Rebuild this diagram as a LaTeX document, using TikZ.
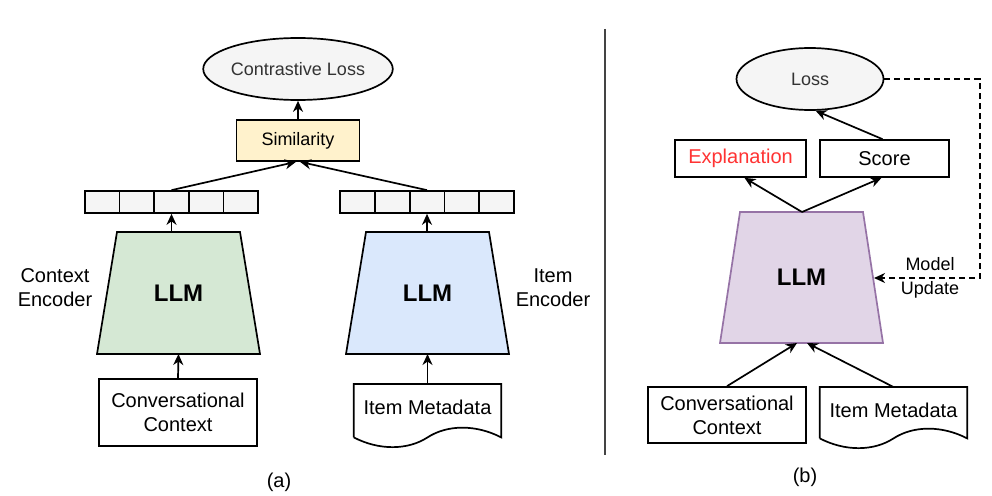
\documentclass[tikz,border=0pt]{standalone}
\usepackage{fontspec}
\setmainfont{Liberation Sans}
\usetikzlibrary{shapes.geometric,arrows.meta,calc}
\definecolor{grayfill}{HTML}{F5F5F5}
\definecolor{losstext}{HTML}{333333}
\definecolor{simfill}{HTML}{FFF2CC}
\definecolor{greenfill}{HTML}{D5E8D4}
\definecolor{bluefill}{HTML}{DAE8FC}
\definecolor{purplefill}{HTML}{E1D5E7}
\definecolor{purpleline}{HTML}{9673A6}
\definecolor{redtext}{HTML}{FF3333}
\definecolor{divider}{HTML}{444444}
\begin{document}
\begin{tikzpicture}[x=1pt,y=-1pt,
  ln/.style={line width=1.7pt},
  arr/.style={line width=1.7pt,-{Stealth[length=11pt,width=10pt,inset=3.5pt]}},
  txt/.style={font=\fontsize{20}{24}\selectfont,align=center},
  smalltxt/.style={font=\fontsize{18}{24}\selectfont,align=center},
  boxnode/.style={draw=black,line width=1.7pt,fill=white,inner sep=0pt,txt},
  lossnode/.style={ellipse,draw=black,line width=1.7pt,fill=grayfill,inner sep=0pt,
    minimum width=147pt,minimum height=62pt,text=losstext,smalltxt},
  cell/.style={draw=black,line width=1.7pt,fill=grayfill,inner sep=0pt,
    minimum width=34.7pt,minimum height=22pt},
  docnode/.style={inner sep=0pt,txt,minimum width=147pt},
  llmtext/.style={font=\fontsize{24}{28}\selectfont\bfseries}
]
\useasboundingbox (0,0) rectangle (992,495);

% ---------------- (a) ----------------
\node[lossnode] (closs) at (298,69) {Contrastive Loss};
\node[boxnode,fill=simfill,minimum width=123pt,minimum height=41pt,font=\fontsize{18}{22}\selectfont] (sim) at (298,140.5) {Similarity};

\foreach \i/\x in {1/102.3,2/136.9,3/171.5,4/206.1,5/240.7}
  \node[cell] (lv\i) at (\x,202) {};
\foreach \i/\x in {1/357.4,2/392.2,3/427,4/461.8,5/496.6}
  \node[cell] (rv\i) at (\x,202) {};

% left LLM
\coordinate (lAtop) at (171.5,232);
\coordinate (lAbot) at (178.5,354);
\draw[ln,fill=greenfill] (117,232) -- (240,232) -- (260,354) -- (97,354) -- cycle;
\node[llmtext] (llmA) at (178.5,293) {LLM};
% right LLM
\coordinate (rAtop) at (427,232);
\coordinate (rAbot) at (427.5,354);
\draw[ln,fill=bluefill] (366,232) -- (489,232) -- (509,354) -- (346,354) -- cycle;
\node[llmtext] (llmB) at (427.5,293) {LLM};

\node[boxnode,minimum width=158pt,minimum height=67pt] (ccA) at (178,412.5) {Conversational\\Context};

\node[docnode,minimum height=53pt,anchor=north] (imA) at (427.5,384) {};
\draw[ln,fill=white] (imA.south west) -- (imA.north west) -- (imA.north east) -- (imA.south east)
  .. controls ($(imA.south east)+(-25,-13)$) and ($(imA.south)+(20,-13)$) .. (imA.south)
  .. controls ($(imA.south)+(-20,13)$) and ($(imA.south west)+(25,13)$) .. (imA.south west);
\node[txt] (imAt) at (427.5,407) {Item Metadata};

\node[txt] (ctxenc) at (55,288) {Context\\Encoder};
\node[txt] (itemenc) at (553,288) {Item\\Encoder};
\node[txt] (capa) at (279,482) {(a)};

\draw[arr] (ccA.north) -- (lAbot);
\draw[arr] (imA.north) -- (rAbot);
\draw[arr] (lAtop) -- (lv3.south);
\draw[arr] (rAtop) -- (rv3.south);
\draw[arr] (lv3.north) -- ($(sim.south)+(-2,0)$);
\draw[arr] (rv3.north) -- ($(sim.south)+(2,0)$);
\draw[arr] (sim.north) -- (closs.south);

% divider
\coordinate (divtop) at (605,29);
\coordinate (divbot) at (605,455);
\draw[line width=1.7pt,divider] (divtop) -- (divbot);

% ---------------- (b) ----------------
\node[lossnode] (loss) at (810,79) {Loss};
\node[boxnode,minimum width=131pt,minimum height=37pt,text=redtext] (expl) at (740.5,158.5) {Explanation};
\node[boxnode,minimum width=129pt,minimum height=37pt] (score) at (884.5,158.5) {Score};

\coordinate (pTop) at (802,212);
\coordinate (pBotL) at (797,343);
\coordinate (pBotR) at (807,343);
\coordinate (pSide) at (874,278);
\draw[line width=1.7pt,draw=purpleline,fill=purplefill] (740,212) -- (863,212) -- (883,343) -- (720,343) -- cycle;
\node[llmtext] (llmC) at (801.5,277) {LLM};

\node[boxnode,minimum width=158pt,minimum height=56pt] (ccB) at (727,415) {Conversational\\Context};

\node[docnode,minimum height=51pt,anchor=north] (imB) at (893.5,387) {};
\draw[ln,fill=white] (imB.south west) -- (imB.north west) -- (imB.north east) -- (imB.south east)
  .. controls ($(imB.south east)+(-25,-13)$) and ($(imB.south)+(20,-13)$) .. (imB.south)
  .. controls ($(imB.south)+(-20,13)$) and ($(imB.south west)+(25,13)$) .. (imB.south west);
\node[txt] (imBt) at (893.5,410) {Item Metadata};

\node[smalltxt] (mupd) at (930,277.5) {Model\\Update};
\node[txt] (capb) at (805,477) {(b)};

\draw[arr] (pTop) -- ($(expl.south)+(4,0)$);
\draw[arr] (pTop) -- ($(score.south)+(-3,0)$);
\draw[arr] ($(score.north)+(-2,0)$) -- (loss.-80);
\draw[arr] (ccB.north) -- (pBotL);
\draw[arr] (imB.north) -- (pBotR);

\coordinate (dcorner1) at (980,79);
\coordinate (dcorner2) at (980,278);
\draw[arr,dashed,dash pattern=on 6pt off 4pt] (loss.east) -- (dcorner1) -- (dcorner2) -- (pSide);
\end{tikzpicture}
\end{document}
